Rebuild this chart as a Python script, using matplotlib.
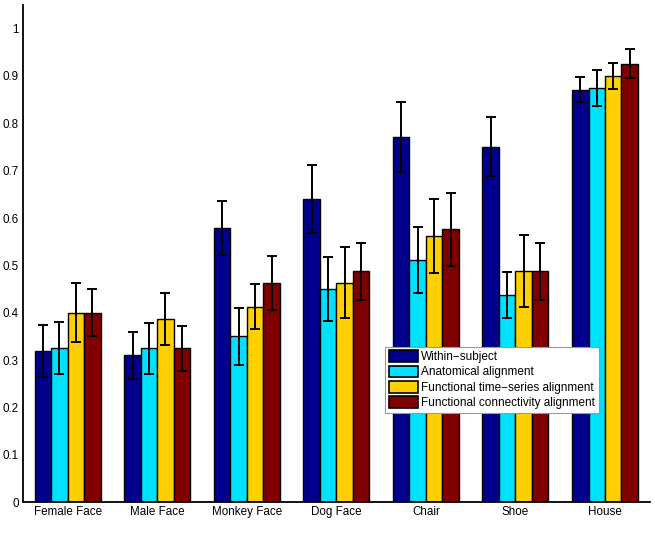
import numpy as np
import matplotlib
matplotlib.use('Agg')
import matplotlib.pyplot as plt

# categorias y series
categories = ['Female Face', 'Male Face', 'Monkey Face', 'Dog Face', 'Chair', 'Shoe', 'House']
series_names = ['Within\u2212subject', 'Anatomical alignment',
                'Functional time\u2212series alignment', 'Functional connectivity alignment']

within = [0.32, 0.31, 0.58, 0.64, 0.771, 0.751, 0.871]
anat = [0.325, 0.325, 0.35, 0.45, 0.512, 0.438, 0.875]
func_ts = [0.40, 0.387, 0.413, 0.463, 0.563, 0.488, 0.90]
func_conn = [0.40, 0.325, 0.463, 0.488, 0.576, 0.488, 0.926]

within_err = [0.055, 0.05, 0.057, 0.072, 0.074, 0.062, 0.027]
anat_err = [0.055, 0.054, 0.06, 0.068, 0.07, 0.049, 0.038]
func_ts_err = [0.062, 0.055, 0.048, 0.075, 0.078, 0.076, 0.028]
func_conn_err = [0.05, 0.048, 0.057, 0.06, 0.077, 0.06, 0.03]

yticks = [0, 0.1, 0.2, 0.3, 0.4, 0.5, 0.6, 0.7, 0.8, 0.9, 1]
ytick_labels = ['0', '0.1', '0.2', '0.3', '0.4', '0.5', '0.6', '0.7', '0.8', '0.9', '1']

colors = ['#00008C', '#00E0FF', '#FFD000', '#800000']

plt.rcParams['font.family'] = ['Liberation Sans', 'DejaVu Sans']

fig = plt.figure(figsize=(6.55, 5.43), dpi=100)
ax = fig.add_axes([0.035, 0.075, 0.957, 0.916])

x = np.arange(1, len(categories) + 1)
width = 0.184
values = [within, anat, func_ts, func_conn]
errors = [within_err, anat_err, func_ts_err, func_conn_err]

for i in range(4):
    pos = x + (i - 1.5) * width
    ax.bar(pos, values[i], width, color=colors[i], edgecolor='black', linewidth=1.0,
           label=series_names[i], zorder=2)
    ax.errorbar(pos, values[i], yerr=errors[i], fmt='none', ecolor='black',
                elinewidth=1.4, capsize=3.7, capthick=1.4, zorder=3)

ax.set_xlim(0.5, 7.5)
ax.set_ylim(0, 1.05)
ax.set_xticks(x)
ax.set_xticklabels(categories, fontsize=8.4)
ax.set_yticks(yticks)
ax.set_yticklabels(ytick_labels, fontsize=8.4)
ax.tick_params(length=0, pad=3)
ax.spines['top'].set_visible(False)
ax.spines['right'].set_visible(False)
ax.spines['left'].set_linewidth(1.3)
ax.spines['bottom'].set_linewidth(1.3)

leg = ax.legend(loc='upper left', bbox_to_anchor=(0.578, 0.313), fontsize=8.5,
                fancybox=False, framealpha=1, edgecolor='#999999',
                handlelength=2.5, handleheight=1.15, handletextpad=0.25,
                labelspacing=0.22, borderpad=0.3, borderaxespad=0)
leg.get_frame().set_linewidth(0.8)
for p in leg.get_patches():
    p.set_linewidth(1.2)

plt.savefig('out.png', dpi=100)
